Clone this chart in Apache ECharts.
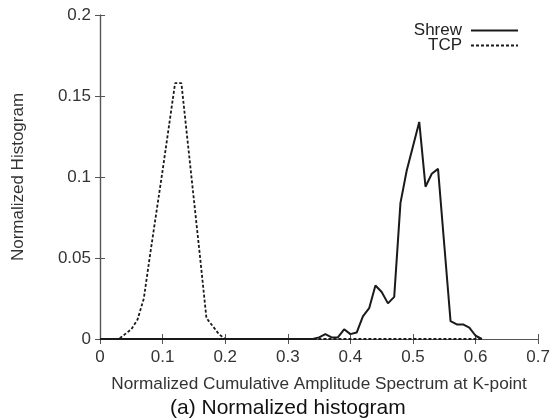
<!DOCTYPE html>
<html>
<head>
<meta charset="utf-8">
<script src="https://cdn.jsdelivr.net/npm/echarts@6/dist/echarts.min.js"></script>
<style>html,body{margin:0;padding:0;background:#fff}#c{width:553px;height:420px}</style>
</head>
<body>
<div id="c"></div>
<script>
var xValues = [0.00,0.01,0.02,0.03,0.04,0.05,0.06,0.07,0.08,0.09,
  0.10,0.11,0.12,0.13,0.14,0.15,0.16,0.17,0.18,0.19,
  0.20,0.21,0.22,0.23,0.24,0.25,0.26,0.27,0.28,0.29,
  0.30,0.31,0.32,0.33,0.34,0.35,0.36,0.37,0.38,0.39,
  0.40,0.41,0.42,0.43,0.44,0.45,0.46,0.47,0.48,0.49,
  0.50,0.51,0.52,0.53,0.54,0.55,0.56,0.57,0.58,0.59,
  0.60,0.61];
var shrewValues = [0,0,0,0,0,0,0,0,0,0,
  0,0,0,0,0,0,0,0,0,0,
  0,0,0,0,0,0,0,0,0,0,
  0,0,0,0,0,0.001,0.003,0.001,0.001,0.006,
  0.003,0.004,0.014,0.019,0.033,0.029,0.022,0.026,0.084,0.104,
  0.119,0.134,0.094,0.102,0.105,0.058,0.011,0.009,0.009,0.007,
  0.002,0];
var tcpValues = [0,0,0,0,0.003,0.006,0.012,0.025,0.052,0.078,
  0.104,0.131,0.158,0.158,0.122,0.086,0.050,0.013,0.008,0.003,
  0,0,0,0,0,0,0,0,0,0,
  0,0,0,0,0,0,0,0,0,0,
  0,0,0,0,0,0,0,0,0,0,
  0,0,0,0,0,0,0,0,0,0,
  0,0];
var seriesNames = ['Shrew', 'TCP'];
var xTitle = 'Normalized Cumulative Amplitude Spectrum at K-point';
var yTitle = 'Normalized Histogram';
var caption = '(a) Normalized histogram';

function pairs(vals){ return xValues.map(function(x,i){ return [x, vals[i]]; }); }

var FONT = 'Liberation Sans, Arial, sans-serif';
var axisCol = '#555';
var chart = echarts.init(document.getElementById('c'), null, {renderer:'canvas'});
var boxAxis = {
  axisLine:{show:true, lineStyle:{color:axisCol, width:1.2}},
  axisTick:{show:true, inside:true, length:5, lineStyle:{color:axisCol}},
  splitLine:{show:false}
};
function legendFor(name, top){
  return {data:[name], right:29, top:top, align:'right', itemWidth:47, itemHeight:14, itemGap:0,
    itemStyle:{opacity:0},
    textStyle:{fontFamily:FONT, fontSize:17, color:'#222', padding:[0,4,0,0]}};
}
chart.setOption({
  animation:false,
  backgroundColor:'#fff',
  title:{text:caption, left:165, top:393, textStyle:{fontFamily:FONT, fontSize:21, fontWeight:'normal', color:'#111'}},
  grid:{left:100, right:13, top:15, bottom:81},
  legend:[legendFor(seriesNames[0], 17), legendFor(seriesNames[1], 32)],
  xAxis:[
    Object.assign({type:'value', min:0, max:0.7, interval:0.1, position:'bottom',
      name:xTitle, nameLocation:'middle', nameGap:37,
      nameTextStyle:{fontFamily:FONT, fontSize:17.2, color:'#333'},
      axisLabel:{fontFamily:FONT, fontSize:17, color:'#333', margin:10}}, boxAxis),
    Object.assign({type:'value', min:0, max:0.7, interval:0.1, position:'top',
      axisLabel:{show:false}}, boxAxis)
  ],
  yAxis:[
    Object.assign({type:'value', min:0, max:0.2, interval:0.05, position:'left',
      name:yTitle, nameLocation:'middle', nameGap:73,
      nameTextStyle:{fontFamily:FONT, fontSize:17, color:'#333'},
      axisLabel:{fontFamily:FONT, fontSize:17, color:'#333', margin:9}}, boxAxis),
    Object.assign({type:'value', min:0, max:0.2, interval:0.05, position:'right',
      axisLabel:{show:false}}, boxAxis)
  ],
  series:[
    {name:seriesNames[0], type:'line', data:pairs(shrewValues), symbol:'none',
     lineStyle:{color:'#1a1a1a', width:2}, itemStyle:{color:'#1a1a1a'}},
    {name:seriesNames[1], type:'line', data:pairs(tcpValues), symbol:'none',
     lineStyle:{color:'#1a1a1a', width:1.8, type:[3,2]}, itemStyle:{color:'#1a1a1a'}}
  ]
});
</script>
</body>
</html>
